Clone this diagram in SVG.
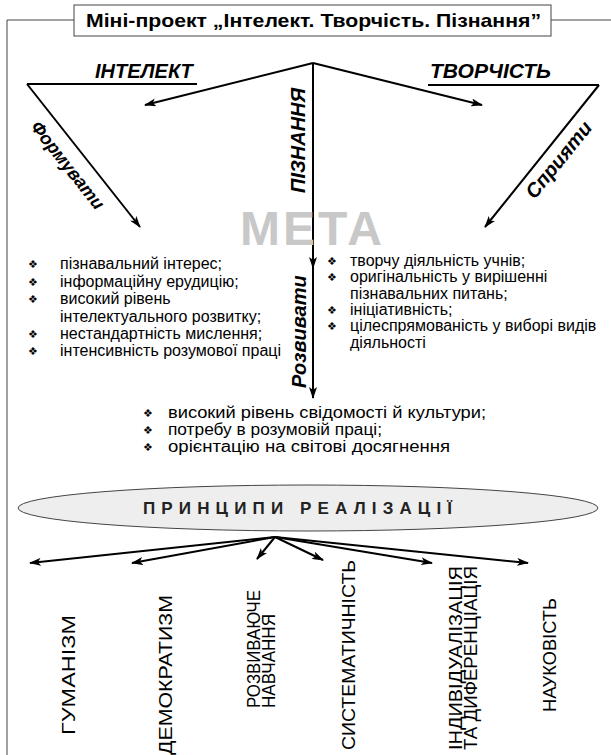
<svg xmlns="http://www.w3.org/2000/svg" width="611" height="755" viewBox="0 0 611 755">
<defs>
<marker id="ah" viewBox="0 0 12 8" refX="11" refY="4" markerWidth="12" markerHeight="8" markerUnits="userSpaceOnUse" orient="auto">
<path d="M0,0 L12,4 L0,8 L3,4 Z" fill="#000"/>
</marker>
<style>
.ln{stroke:#000;stroke-width:2;fill:none}
.fr{stroke:#444;stroke-width:1;fill:none}
.hd{font-family:"Liberation Sans",Arial,sans-serif;font-weight:bold;font-style:italic;font-size:20px;fill:#000}
.tx{font-family:"Liberation Sans",Arial,sans-serif;font-size:16px;fill:#000}
.tm{font-family:"Liberation Sans",Arial,sans-serif;font-size:16px;fill:#000}
.bl{font-family:"DejaVu Sans",sans-serif;font-size:11px;fill:#000}
.vt{font-family:"Liberation Sans",Arial,sans-serif;font-size:18px;fill:#000}
</style>
</defs>
<rect width="611" height="755" fill="#fff"/>
<g id="frame">
<path class="fr" d="M7,755 V20 H74 M551,20 H611"/>
</g>
<g id="title">
<rect x="74" y="5" width="477" height="31" fill="#fff" stroke="#444" stroke-width="1"/>
<text x="86" y="27" textLength="455" lengthAdjust="spacingAndGlyphs" style="font-family:'Liberation Sans',Arial,sans-serif;font-weight:bold;font-size:19px">Міні-проект „Інтелект. Творчість. Пізнання”</text>
</g>
<g id="connectors">
<line class="ln" x1="313" y1="63" x2="145" y2="105" marker-end="url(#ah)"/>
<line class="ln" x1="313" y1="63" x2="482" y2="105" marker-end="url(#ah)"/>
<line class="ln" x1="27" y1="84" x2="197" y2="84"/>
<line class="ln" x1="27" y1="84" x2="140" y2="227" marker-end="url(#ah)"/>
<line class="ln" x1="428" y1="85" x2="599" y2="85"/>
<line class="ln" x1="599" y1="85" x2="485" y2="227" marker-end="url(#ah)"/>
<path class="ln" d="M313,63 V268 V398" marker-mid="url(#ah)" marker-end="url(#ah)"/>
<line class="ln" x1="275" y1="537" x2="30" y2="563" marker-end="url(#ah)"/>
<line class="ln" x1="275" y1="537" x2="132" y2="563" marker-end="url(#ah)"/>
<line class="ln" x1="275" y1="537" x2="257" y2="559" marker-end="url(#ah)"/>
<line class="ln" x1="275" y1="537" x2="323" y2="560" marker-end="url(#ah)"/>
<line class="ln" x1="275" y1="537" x2="432" y2="563" marker-end="url(#ah)"/>
<line class="ln" x1="275" y1="537" x2="528" y2="563" marker-end="url(#ah)"/>
</g>
<g id="intelekt">
<text class="hd" x="95" y="78">ІНТЕЛЕКТ</text>
</g>
<g id="tvorchist">
<text class="hd" x="430" y="78" textLength="121" lengthAdjust="spacingAndGlyphs">ТВОРЧІСТЬ</text>
</g>
<g id="piznannia">
<text class="hd" transform="translate(305,193) rotate(-90)">ПІЗНАННЯ</text>
</g>
<g id="formuvaty">
<text class="hd" transform="translate(63,169) rotate(51.7)" text-anchor="middle" style="font-size:18px">Формувати</text>
</g>
<g id="spryiaty">
<text class="hd" transform="translate(564,164) rotate(-51)" text-anchor="middle">Сприяти</text>
</g>
<g id="rozvyvaty">
<text class="hd" transform="translate(306,388) rotate(-90)">Розвивати</text>
</g>
<g id="meta">
<text x="240" y="245" textLength="142" lengthAdjust="spacing" style="font-family:'Liberation Sans',Arial,sans-serif;font-weight:bold;font-size:48px;fill:#c8c8c8">МЕТА</text>
</g>
<g id="left-list">
<text class="bl" x="28" y="268">❖</text>
<text class="bl" x="28" y="286">❖</text>
<text class="bl" x="28" y="303">❖</text>
<text class="bl" x="28" y="338">❖</text>
<text class="bl" x="28" y="355">❖</text>
<text class="tx" x="60" y="269">пізнавальний інтерес;</text>
<text class="tx" x="60" y="287">інформаційну ерудицію;</text>
<text class="tx" x="60" y="304">високий рівень</text>
<text class="tx" x="60" y="322">інтелектуального розвитку;</text>
<text class="tx" x="60" y="339">нестандартність мислення;</text>
<text class="tx" x="60" y="356">інтенсивність розумової праці</text>
</g>
<g id="right-list">
<text class="bl" x="327" y="265">❖</text>
<text class="bl" x="327" y="281">❖</text>
<text class="bl" x="327" y="314">❖</text>
<text class="bl" x="327" y="330">❖</text>
<text class="tx" x="350" y="266">творчу діяльність учнів;</text>
<text class="tx" x="350" y="282">оригінальність у вирішенні</text>
<text class="tx" x="350" y="299">пізнавальних питань;</text>
<text class="tx" x="350" y="315">ініціативність;</text>
<text class="tx" x="350" y="331">цілеспрямованість у виборі видів</text>
<text class="tx" x="350" y="348">діяльності</text>
</g>
<g id="mid-list">
<text class="bl" x="143" y="417">❖</text>
<text class="bl" x="143" y="434">❖</text>
<text class="bl" x="143" y="451">❖</text>
<text class="tm" x="168" y="418" textLength="318" lengthAdjust="spacingAndGlyphs">високий рівень свідомості й культури;</text>
<text class="tm" x="168" y="435" textLength="214" lengthAdjust="spacingAndGlyphs">потребу в розумовій праці;</text>
<text class="tm" x="168" y="452" textLength="282" lengthAdjust="spacingAndGlyphs">орієнтацію на світові досягнення</text>
</g>
<g id="pryntsypy">
<ellipse cx="308" cy="508" rx="290" ry="23" fill="#eeeeee" stroke="#444" stroke-width="1"/>
<text x="143" y="514" textLength="309" lengthAdjust="spacing" style="font-family:'Liberation Sans',Arial,sans-serif;font-weight:bold;font-size:17px;fill:#222">ПРИНЦИПИ РЕАЛІЗАЦІЇ</text>
</g>
<g id="humanizm"><text class="vt" transform="translate(75,735) rotate(-90)" textLength="120" lengthAdjust="spacingAndGlyphs">ГУМАНІЗМ</text></g>
<g id="demokratyzm"><text class="vt" transform="translate(172,755) rotate(-90)" textLength="160" lengthAdjust="spacingAndGlyphs">ДЕМОКРАТИЗМ</text></g>
<g id="rozvyvaiuche"><text class="vt" transform="translate(260,708) rotate(-90)" textLength="118" lengthAdjust="spacingAndGlyphs">РОЗВИВАЮЧЕ</text><text class="vt" transform="translate(275,708) rotate(-90)" textLength="94" lengthAdjust="spacingAndGlyphs">НАВЧАННЯ</text></g>
<g id="systematychnist"><text class="vt" transform="translate(355,750) rotate(-90)" textLength="190" lengthAdjust="spacingAndGlyphs">СИСТЕМАТИЧНІСТЬ</text></g>
<g id="indyvidualizatsiia"><text class="vt" transform="translate(462,750) rotate(-90)" textLength="184" lengthAdjust="spacingAndGlyphs">ІНДИВІДУАЛІЗАЦІЯ</text><text class="vt" transform="translate(477,750) rotate(-90)" textLength="184" lengthAdjust="spacingAndGlyphs">ТА ДИФЕРЕНЦІАЦІЯ</text></g>
<g id="naukovist"><text class="vt" transform="translate(556,712) rotate(-90)" textLength="114" lengthAdjust="spacingAndGlyphs">НАУКОВІСТЬ</text></g>
</svg>
